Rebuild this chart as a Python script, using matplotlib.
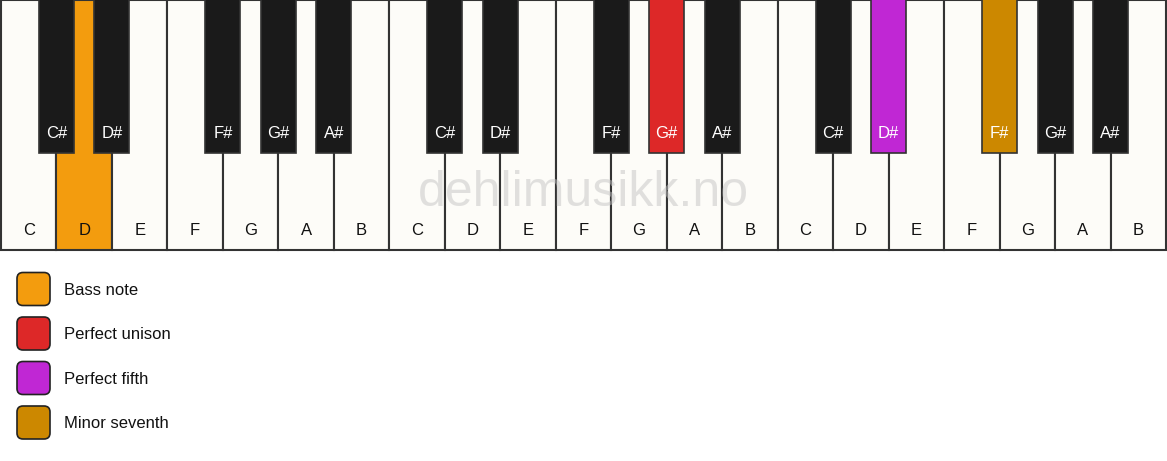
import matplotlib.pyplot as plt
from matplotlib.patches import Rectangle, FancyBboxPatch

# keyboard content
white_notes = ['C', 'D', 'E', 'F', 'G', 'A', 'B'] * 3
black_names = ['C#', 'D#', 'F#', 'G#', 'A#']
black_after = [0, 1, 3, 4, 5]  # white key index (within octave) the black key sits after
octaves = 3

# highlighted keys: (kind, octave, note) -> colour
highlights = {
    ('white', 0, 'D'): '#f39c0e',
    ('black', 1, 'G#'): '#dd2828',
    ('black', 2, 'D#'): '#c027d4',
    ('black', 2, 'F#'): '#cc8800',
}

legend_labels = ['Bass note', 'Perfect unison', 'Perfect fifth', 'Minor seventh']
legend_colors = ['#f39c0e', '#dd2828', '#c027d4', '#cc8800']

plt.rcParams['font.family'] = ['Liberation Sans', 'DejaVu Sans']

W, H = 1167, 461
fig = plt.figure(figsize=(W / 100, H / 100), dpi=100)
ax = fig.add_axes([0, 0, 1, 1])
ax.set_xlim(0, W)
ax.set_ylim(H, 0)
ax.axis('off')

x0, kw = 1.0, 1165.0 / 21
white_h = 250
black_w, black_h = 35, 153
edge = '#333333'

for i, note in enumerate(white_notes):
    octv = i // 7
    fc = highlights.get(('white', octv, note), '#fdfcf8')
    ax.add_patch(Rectangle((x0 + i * kw, 0), kw, white_h, facecolor=fc,
                           edgecolor=edge, lw=1.5, zorder=1))
    ax.text(x0 + (i + 0.5) * kw, 230, note, ha='center', va='center',
            fontsize=12, color='#111111', zorder=5)

ax.text(583, 193, 'dehlimusikk.no', ha='center', va='center', fontsize=36,
        color='#c4c4c4', alpha=0.5, zorder=2)

for o in range(octaves):
    for name, after in zip(black_names, black_after):
        cx = x0 + (o * 7 + after + 1) * kw
        fc = highlights.get(('black', o, name), '#1a1a1a')
        ax.add_patch(Rectangle((cx - black_w / 2, -2), black_w, black_h + 2,
                               facecolor=fc, edgecolor=edge, lw=1.2, zorder=3))
        ax.text(cx, 133, name, ha='center', va='center', fontsize=12,
                color='white', zorder=5)

for k, (lab, col) in enumerate(zip(legend_labels, legend_colors)):
    cy = 289 + k * 44.5
    ax.add_patch(FancyBboxPatch((17 + 6, cy - 16.5 + 6), 33 - 12, 33 - 12,
                                boxstyle='round,pad=6', facecolor=col,
                                edgecolor='#222222', lw=1.2, zorder=3))
    ax.text(64, cy + 1, lab, ha='left', va='center', fontsize=12,
            color='#111111')

fig.savefig('out.png', dpi=100, facecolor='white')
